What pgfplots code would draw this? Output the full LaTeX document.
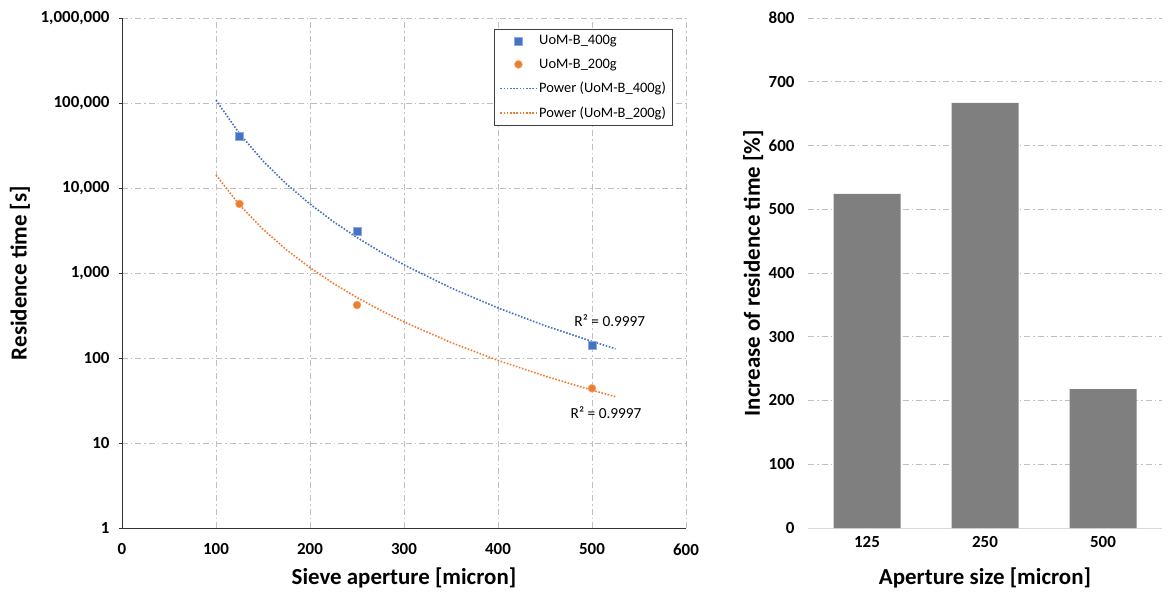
\documentclass[border=0pt]{standalone}
\usepackage{pgfplots}
\pgfplotsset{compat=1.18}
\usepackage{fontspec}
\setmainfont{Carlito}
\definecolor{xlblue}{RGB}{68,114,196}
\definecolor{xlorange}{RGB}{237,125,49}
\definecolor{gridgray}{RGB}{191,191,191}
\definecolor{bargray}{RGB}{127,127,127}
\definecolor{axisgray}{RGB}{217,217,217}

\pgfplotstableread{
x y
125 41000
250 3120
500 142
}\dataA
\pgfplotstableread{
x y
125 6500
250 420
500 44
}\dataB
\pgfplotstableread{
x y
100 107900
125 43650
150 20800
175 11130
200 6470
225 4010
250 2615
275 1776
300 1247
350 667
400 388
450 240
500 157
525 128.5
}\fitA
\pgfplotstableread{
x y
100 14190
125 6325
150 3270
175 1872
200 1155
225 753
250 515
275 364.5
300 266
350 152
400 93.8
450 61.3
500 41.8
525 35.1
}\fitB

\begin{document}
\begin{tikzpicture}
\useasboundingbox (-122bp,-64bp) rectangle (1048bp,528bp);
\begin{axis}[
  at={(0bp,0bp)}, anchor=south west, scale only axis,
  width=564bp, height=510bp,
  xmin=0, xmax=600, ymode=log, ymin=1, ymax=1000000,
  xtick={0,100,200,300,400,500,600},
  xticklabels={0,100,200,300,400,500,600},
  ytick={1,10,100,1000,10000,100000,1000000},
  yticklabels={1,10,100,{1,000},{10,000},{100,000},{1,000,000}},
  yminorticks=false,
  axis x line*=bottom, axis y line*=left,
  axis line style={black!80, line width=0.8bp, -},
  grid=major,
  grid style={gridgray, line width=0.8bp, dash pattern=on 6bp off 3bp on 1.5bp off 3bp},
  tick align=outside, tick style={black!80, line width=0.8bp},
  x tick style={draw=none}, major tick length=3bp,
  ticklabel style={font=\fontsize{17}{20}\selectfont\bfseries},
  xticklabel style={yshift=-9bp},
  yticklabel style={xshift=-6bp},
  xlabel={Sieve aperture [micron]}, ylabel={Residence time [s]},
  label style={font=\fontsize{23}{27}\selectfont\bfseries},
  xlabel style={at={(axis description cs:0.5,-0.098)}, anchor=center},
  ylabel style={at={(axis description cs:-0.181,0.5)}, anchor=center},
  legend style={at={(0.66,0.978)}, anchor=north west, draw=black!75, line width=0.8bp,
    font=\fontsize{14.5}{17}\selectfont, cells={anchor=west}, row sep=8.5bp,
    inner xsep=5bp, inner ysep=4bp},
  legend image code/.code={\draw[mark repeat=2,mark phase=2,#1] plot coordinates {(0bp,0bp) (18bp,0bp) (36bp,0bp)};},
]
\addplot[xlblue, line width=1.6bp, dash pattern=on 1.6bp off 1.6bp, no marks, forget plot] table {\fitA};
\addplot[xlorange, line width=1.6bp, dash pattern=on 1.6bp off 1.6bp, no marks, forget plot] table {\fitB};
\addplot[only marks, mark=square*, mark size=4bp, mark options={fill=xlblue, draw=xlblue!60!white, line width=0.5bp}] table {\dataA};
\addlegendentry{UoM-B\_400g}
\addplot[only marks, mark=*, mark size=4bp, mark options={fill=xlorange, draw=xlorange!60!white, line width=0.5bp}] table {\dataB};
\addlegendentry{UoM-B\_200g}
\addlegendimage{xlblue, line width=1.6bp, dash pattern=on 1.6bp off 1.6bp}
\addlegendentry{Power (UoM-B\_400g)}
\addlegendimage{xlorange, line width=1.6bp, dash pattern=on 1.6bp off 1.6bp}
\addlegendentry{Power (UoM-B\_200g)}
\node[font=\fontsize{15.4}{18}\selectfont] at (axis cs:519,272) {R² = 0.9997};
\node[font=\fontsize{15.4}{18}\selectfont] at (axis cs:515,22.5) {R² = 0.9997};
\end{axis}

\begin{axis}[
  at={(686bp,0bp)}, anchor=south west, scale only axis,
  width=354bp, height=510bp,
  xmin=-0.5, xmax=2.5, ymin=0, ymax=800,
  xtick={0,1,2}, xticklabels={125,250,500},
  ytick={0,100,200,300,400,500,600,700,800},
  yticklabels={0,100,200,300,400,500,600,700,800},
  axis x line*=bottom, axis y line*=left,
  x axis line style={axisgray, line width=1bp, -},
  y axis line style={draw=none, -},
  ymajorgrids,
  grid style={gridgray, line width=0.8bp, dash pattern=on 6bp off 3bp on 1.5bp off 3bp},
  major tick length=0bp,
  ticklabel style={font=\fontsize{17}{20}\selectfont\bfseries},
  xticklabel style={yshift=-5bp},
  yticklabel style={xshift=-10bp},
  xlabel={Aperture size [micron]}, ylabel={Increase of residence time [\%]},
  label style={font=\fontsize{23}{27}\selectfont\bfseries},
  xlabel style={at={(axis description cs:0.5,-0.098)}, anchor=center},
  ylabel style={at={(axis description cs:-0.155,0.5)}, anchor=center},
  ybar, bar width=67bp,
]
\addplot[fill=bargray, draw=none] coordinates {(0,524) (1,667) (2,218)};
\end{axis}
\end{tikzpicture}
\end{document}
